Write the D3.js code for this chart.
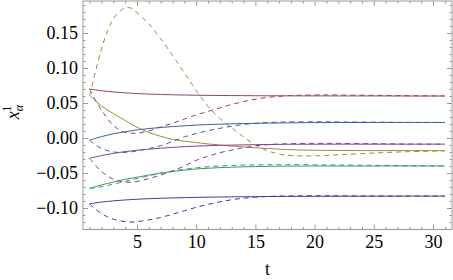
<!DOCTYPE html>
<html>
<head>
<meta charset="utf-8">
<script src="https://cdn.jsdelivr.net/npm/d3@7"></script>
<style>
  body { margin: 0; background: #fff; }
  svg { display: block; }
  svg text { font-family: "Liberation Serif", serif; }
</style>
</head>
<body>
<svg id="chart" width="453" height="280"></svg>
<script>

var tGrid = [1, 1.5, 2, 2.5, 3, 3.5, 4, 4.5, 5, 6, 7, 8, 9, 10, 11, 12, 13, 14, 15, 16, 17, 18, 20, 22, 25, 28, 31];

var crimsonSolid  = [0.070, 0.0687, 0.0675, 0.0666, 0.0658, 0.0651, 0.0645, 0.064, 0.0635, 0.0628, 0.0622, 0.0617, 0.0614, 0.0611, 0.0609, 0.0607, 0.0606, 0.0605, 0.0604, 0.0603, 0.0603, 0.0602, 0.0602, 0.0601, 0.0601, 0.060, 0.060];
var crimsonDashed = [0.070, 0.054, 0.040, 0.028, 0.018, 0.012, 0.008, 0.0068, 0.007, 0.010, 0.016, 0.021, 0.027, 0.033, 0.038, 0.043, 0.048, 0.052, 0.0555, 0.058, 0.0595, 0.0607, 0.0615, 0.0614, 0.0609, 0.0604, 0.0601];

var oliveSolid  = [0.061, 0.053, 0.046, 0.040, 0.035, 0.030, 0.025, 0.020, 0.0155, 0.008, 0.0025, -0.002, -0.0045, -0.0065, -0.0085, -0.010, -0.0115, -0.0128, -0.014, -0.015, -0.016, -0.0167, -0.0175, -0.0178, -0.018, -0.018, -0.018];
var oliveDashed = [0.061, 0.095, 0.127, 0.152, 0.170, 0.180, 0.186, 0.1855, 0.179, 0.163, 0.142, 0.118, 0.093, 0.068, 0.045, 0.028, 0.0145, 0.0015, -0.010, -0.018, -0.023, -0.025, -0.0255, -0.024, -0.0215, -0.0195, -0.0185];

var blueSolid  = [-0.003, -0.0005, 0.002, 0.004, 0.006, 0.0075, 0.009, 0.0103, 0.0115, 0.0135, 0.015, 0.0163, 0.0174, 0.0184, 0.0192, 0.0198, 0.0203, 0.0207, 0.021, 0.0213, 0.0215, 0.0217, 0.022, 0.0221, 0.0222, 0.0222, 0.0222];
var blueDashed = [-0.003, -0.010, -0.015, -0.018, -0.020, -0.0205, -0.0205, -0.0198, -0.0185, -0.015, -0.011, -0.005, 0.0015, 0.0065, 0.0105, 0.0138, 0.0168, 0.0193, 0.021, 0.022, 0.0227, 0.023, 0.0232, 0.023, 0.0226, 0.0223, 0.0222];

var purpleSolid  = [-0.029, -0.027, -0.025, -0.0235, -0.022, -0.0207, -0.0195, -0.0185, -0.0175, -0.016, -0.0146, -0.0134, -0.0124, -0.0116, -0.011, -0.0105, -0.0101, -0.0098, -0.0095, -0.0093, -0.0091, -0.009, -0.0089, -0.0088, -0.0088, -0.0088, -0.0088];
var purpleDashed = [-0.029, -0.039, -0.048, -0.054, -0.059, -0.0615, -0.063, -0.0632, -0.062, -0.058, -0.053, -0.047, -0.040, -0.032, -0.026, -0.021, -0.0172, -0.0138, -0.0112, -0.0096, -0.0086, -0.008, -0.0076, -0.0077, -0.0082, -0.0086, -0.0088];

var greenSolid  = [-0.072, -0.0695, -0.067, -0.065, -0.063, -0.061, -0.059, -0.0575, -0.056, -0.053, -0.050, -0.0478, -0.0458, -0.0443, -0.0432, -0.0423, -0.0417, -0.0412, -0.0408, -0.0405, -0.0403, -0.0402, -0.040, -0.040, -0.040, -0.040, -0.040];
var greenDashed = [-0.072, -0.071, -0.0695, -0.068, -0.066, -0.064, -0.062, -0.060, -0.058, -0.054, -0.0505, -0.0473, -0.0447, -0.0427, -0.0411, -0.040, -0.0392, -0.0387, -0.0384, -0.0382, -0.0381, -0.0381, -0.0383, -0.0386, -0.039, -0.0394, -0.0397];

var indigoSolid  = [-0.094, -0.0927, -0.0915, -0.0906, -0.0898, -0.0891, -0.0885, -0.088, -0.0875, -0.0867, -0.0861, -0.0856, -0.0852, -0.0848, -0.0845, -0.0843, -0.0841, -0.0839, -0.0838, -0.0836, -0.0835, -0.0834, -0.0833, -0.0832, -0.0831, -0.083, -0.083];
var indigoDashed = [-0.094, -0.102, -0.108, -0.1125, -0.116, -0.118, -0.1195, -0.120, -0.1195, -0.117, -0.1135, -0.109, -0.104, -0.099, -0.0948, -0.0912, -0.0882, -0.086, -0.0845, -0.0836, -0.083, -0.0827, -0.0825, -0.0826, -0.0828, -0.0829, -0.083];

var xMajorTicks = [5, 10, 15, 20, 25, 30];
var yMajorTicks = [-0.10, -0.05, 0.00, 0.05, 0.10, 0.15];

// mathematica default plot colours, one per solid/dashed pair
var series = [
  { values: indigoSolid,   color: "#3f3d99", dashed: false },
  { values: crimsonSolid,  color: "#993d71", dashed: false },
  { values: oliveSolid,    color: "#998d3d", dashed: false },
  { values: greenSolid,    color: "#3d9962", dashed: false },
  { values: blueSolid,     color: "#3d6299", dashed: false },
  { values: purpleSolid,   color: "#873d99", dashed: false },
  { values: indigoDashed,  color: "#3f3d99", dashed: true },
  { values: crimsonDashed, color: "#993d71", dashed: true },
  { values: oliveDashed,   color: "#998d3d", dashed: true },
  { values: greenDashed,   color: "#3d9962", dashed: true },
  { values: blueDashed,    color: "#3d6299", dashed: true },
  { values: purpleDashed,  color: "#873d99", dashed: true }
];

var svg = d3.select("#chart");
var frameL = 83, frameR = 452, frameT = 1, frameB = 229.5;
var serif = '"Liberation Serif", serif';

var x = d3.scaleLinear().domain([0.443, 31.6]).range([frameL, frameR]);
var y = d3.scaleLinear().domain([-0.1307, 0.1957]).range([frameB, frameT]);

var xMinor = d3.range(1, 32).filter(function(d) { return d % 5 != 0; });
var yMinor = d3.range(-13, 20).map(function(d) { return d / 100; }).filter(function(d) { return Math.round(d * 100) % 5 != 0; });

var line = d3.line()
  .x(function(d) { return x(d[0]); })
  .y(function(d) { return y(d[1]); })
  .curve(d3.curveCatmullRom);

var plot = svg.append("g").attr("class", "plot");

series.forEach(function(s) {
  plot.append("path")
    .datum(tGrid.map(function(t, i) { return [t, s.values[i]]; }))
    .attr("fill", "none")
    .attr("stroke", s.color)
    .attr("stroke-width", 1)
    .attr("stroke-dasharray", s.dashed ? "5,4" : null)
    .attr("d", line);
});

/* frame and ticks */
var frameColor = "#999";

function styleAxis(g) {
  g.select(".domain").remove();
  g.attr("font-family", null);
  g.selectAll(".tick line").attr("stroke", frameColor);
  g.selectAll(".tick text")
    .attr("fill", "#000")
    .style("font-family", serif)
    .style("font-size", "18px");
}

svg.append("g").attr("transform", "translate(0," + frameB + ")")
  .call(d3.axisBottom(x).tickValues(xMajorTicks).tickSize(-5).tickSizeOuter(0).tickPadding(6).tickFormat(d3.format("d")))
  .call(styleAxis);
svg.append("g").attr("transform", "translate(0," + frameB + ")")
  .call(d3.axisBottom(x).tickValues(xMinor).tickSize(-2.5).tickSizeOuter(0).tickFormat(""))
  .call(styleAxis);
svg.append("g").attr("transform", "translate(0," + frameT + ")")
  .call(d3.axisTop(x).tickValues(xMajorTicks).tickSize(-5).tickSizeOuter(0).tickFormat(""))
  .call(styleAxis);
svg.append("g").attr("transform", "translate(0," + frameT + ")")
  .call(d3.axisTop(x).tickValues(xMinor).tickSize(-2.5).tickSizeOuter(0).tickFormat(""))
  .call(styleAxis);

svg.append("g").attr("transform", "translate(" + frameL + ",0)")
  .call(d3.axisLeft(y).tickValues(yMajorTicks).tickSize(-5).tickSizeOuter(0).tickPadding(5).tickFormat(d3.format(".2f")))
  .call(styleAxis);
svg.append("g").attr("transform", "translate(" + frameL + ",0)")
  .call(d3.axisLeft(y).tickValues(yMinor).tickSize(-2.5).tickSizeOuter(0).tickFormat(""))
  .call(styleAxis);
svg.append("g").attr("transform", "translate(" + frameR + ",0)")
  .call(d3.axisRight(y).tickValues(yMajorTicks).tickSize(-5).tickSizeOuter(0).tickFormat(""))
  .call(styleAxis);
svg.append("g").attr("transform", "translate(" + frameR + ",0)")
  .call(d3.axisRight(y).tickValues(yMinor).tickSize(-2.5).tickSizeOuter(0).tickFormat(""))
  .call(styleAxis);

svg.append("rect")
  .attr("x", frameL)
  .attr("y", frameT)
  .attr("width", frameR - frameL)
  .attr("height", frameB - frameT)
  .attr("fill", "none")
  .attr("stroke", frameColor)
  .attr("stroke-width", 1);

/* axis labels */
svg.append("text")
  .attr("x", (frameL + frameR) / 2)
  .attr("y", 275)
  .attr("text-anchor", "middle")
  .style("font-family", serif)
  .style("font-size", "18px")
  .text("t");

var yLabel = svg.append("text")
  .attr("transform", "translate(19,112) rotate(-90)")
  .attr("text-anchor", "middle")
  .style("font-family", serif)
  .style("font-size", "18px");
yLabel.append("tspan").style("font-style", "italic").text("x");
yLabel.append("tspan").style("font-style", "italic").style("font-size", "12px").attr("dy", 4).text("α");
yLabel.append("tspan").style("font-size", "12px").attr("dx", -7).attr("dy", -12).text("1");

</script>
</body>
</html>
